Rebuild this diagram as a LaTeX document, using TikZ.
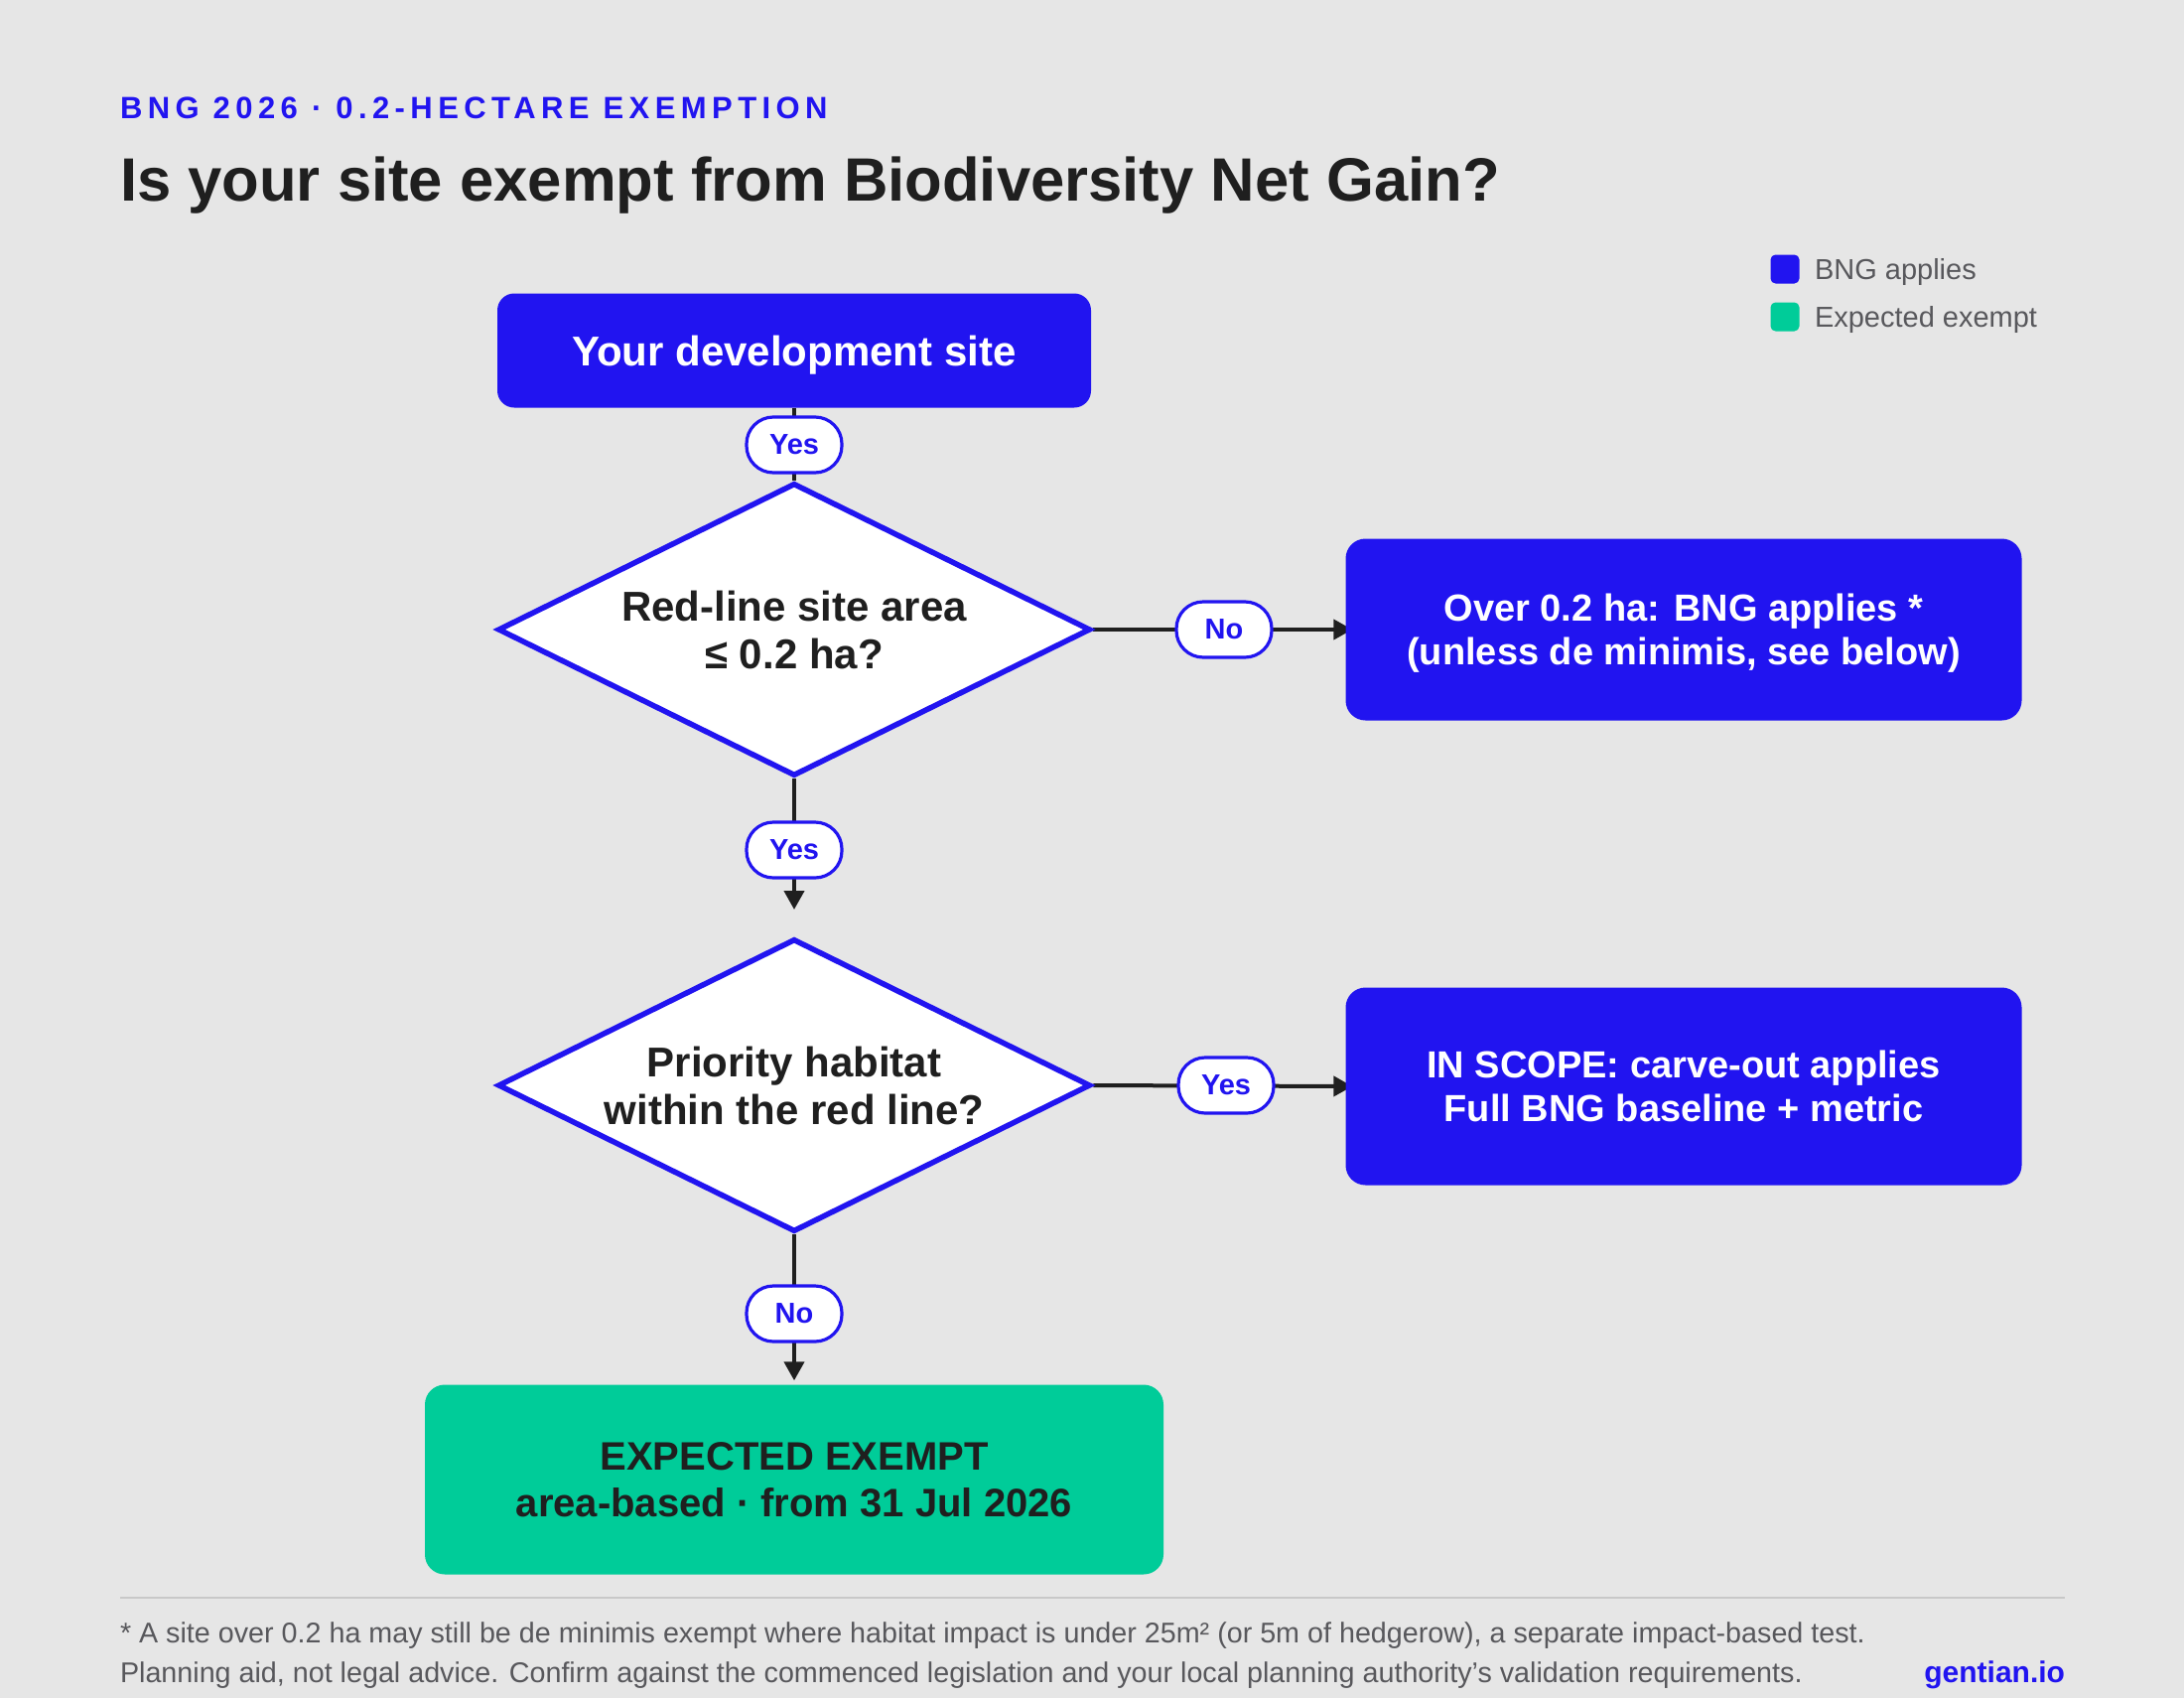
\documentclass[tikz,border=0pt]{standalone}
\usepackage{fontspec}
\setmainfont{Liberation Sans}
\newfontfamily\spacedfont[LetterSpace=17.5]{Liberation Sans}
\usetikzlibrary{shapes.geometric,arrows.meta,calc}
\pgfdeclarelayer{background}
\pgfsetlayers{background,main}
\definecolor{bg}{HTML}{E6E6E6}
\definecolor{bngblue}{HTML}{2114F0}
\definecolor{exgreen}{HTML}{00CC99}
\definecolor{ink}{HTML}{1F1F1F}
\definecolor{muted}{HTML}{58585C}
\definecolor{rulegrey}{HTML}{C8C8C8}
\begin{document}
\begin{tikzpicture}[x=1pt,y=-1pt,
  txt/.style={inner sep=0pt, outer sep=0pt},
  startbox/.style={fill=bngblue, rounded corners=17pt, minimum width=598pt, minimum height=115pt, inner sep=0pt,
    text=white, text depth=0pt, font=\bfseries\fontsize{42}{48}\selectfont},
  decision/.style={diamond, aspect=2, draw=bngblue, line width=5.5pt, fill=white, minimum width=597pt, minimum height=295pt,
    inner sep=0pt, align=center, text=ink, font=\bfseries\fontsize{42}{48}\selectfont},
  outcome/.style={fill=bngblue, rounded corners=20pt, minimum width=681pt, minimum height=183pt, inner sep=0pt,
    align=center, text=white, font=\bfseries\fontsize{38}{44}\selectfont},
  exemptbox/.style={fill=exgreen, rounded corners=20pt, minimum width=744pt, minimum height=191pt, inner sep=0pt,
    align=center, text=ink, font=\bfseries\fontsize{40}{47}\selectfont},
  pill/.style={draw=bngblue, line width=3.2pt, fill=white, rounded corners=27pt, minimum width=96pt, minimum height=56pt,
    inner sep=0pt, text=bngblue, font=\bfseries\fontsize{29}{29}\selectfont},
  conn/.style={draw=ink, line width=4pt},
  arrow/.style={conn, -{Triangle[length=19pt,width=20pt]}},
  legendsq/.style={rounded corners=5pt, minimum size=29pt, inner sep=0pt},
  legendtxt/.style={txt, anchor=base west, text=muted, font=\fontsize{29}{29}\selectfont},
  foot/.style={txt, anchor=base west, text=muted, font=\fontsize{28.7}{28.7}\selectfont}
]
\begin{pgfonlayer}{background}
\fill[bg] (0,0) rectangle (2200,1710);
\end{pgfonlayer}
\useasboundingbox (0,0) rectangle (2200,1710);

% header
\node[txt, anchor=base west, text=bngblue, font=\spacedfont\bfseries\fontsize{31}{31}\selectfont] (kicker) at (121,119) {BNG 2026 · 0.2-HECTARE EXEMPTION};
\node[txt, anchor=base west, text=ink, font=\bfseries\fontsize{61.6}{61.6}\selectfont] (title) at (121,202) {Is your site exempt from Biodiversity Net Gain?};

% legend
\node[legendsq, fill=bngblue] (lgA) at (1798,271) {};
\node[legendtxt] (lgAt) at (1828,281) {BNG applies};
\node[legendsq, fill=exgreen] (lgB) at (1798,319) {};
\node[legendtxt] (lgBt) at (1828,329) {Expected exempt};

% nodes
\node[startbox] (start) at (800,353) {Your development site};
\node[decision] (d1) at (800,634) {Red-line site area\\≤ 0.2 ha?};
\node[outcome, text depth=0pt] (over) at (1696,634) {Over 0.2 ha: BNG applies *\\(unless de minimis, see below)};
\node[decision] (d2) at (800,1093) {Priority habitat\\within the red line?};
\node[outcome, minimum height=199pt] (scope) at (1696,1094) {IN SCOPE: carve-out applies\\Full BNG baseline + metric};
\node[exemptbox] (exempt) at (800,1490) {EXPECTED EXEMPT\\area-based · from 31 Jul 2026};
\coordinate (d2in) at (800,916);

% connectors (behind the boxes)
\begin{pgfonlayer}{background}
\draw[conn] (start.south) -- (d1.north);
\draw[arrow, shorten >=-7pt] (d1.east) -- (over.west);
\draw[arrow] (d1.south) -- (d2in);
\draw[arrow, shorten >=-7pt] (d2.east) -- (scope.west);
\draw[arrow, shorten >=4pt] (d2.south) -- (exempt.north);
\end{pgfonlayer}

% labels
\node[pill] (p1) at (800,448) {Yes};
\node[pill] (p2) at (1233,634) {No};
\node[pill] (p3) at (800,856) {Yes};
\node[pill] (p4) at (1235,1093) {Yes};
\node[pill] (p5) at (800,1323) {No};

% footer
\coordinate (ruleL) at (121,1609);
\coordinate (ruleR) at (2080,1609);
\draw[rulegrey, line width=2.5pt] (ruleL) -- (ruleR);
\node[foot] (fn1) at (121,1654) {* A site over 0.2 ha may still be de minimis exempt where habitat impact is under 25m² (or 5m of hedgerow), a separate impact-based test.};
\node[foot] (fn2) at (121,1694) {Planning aid, not legal advice. Confirm against the commenced legislation and your local planning authority's validation requirements.};
\node[txt, anchor=base east, text=bngblue, font=\bfseries\fontsize{30}{30}\selectfont] (brand) at (2080,1694) {gentian.io};
\end{tikzpicture}
\end{document}
